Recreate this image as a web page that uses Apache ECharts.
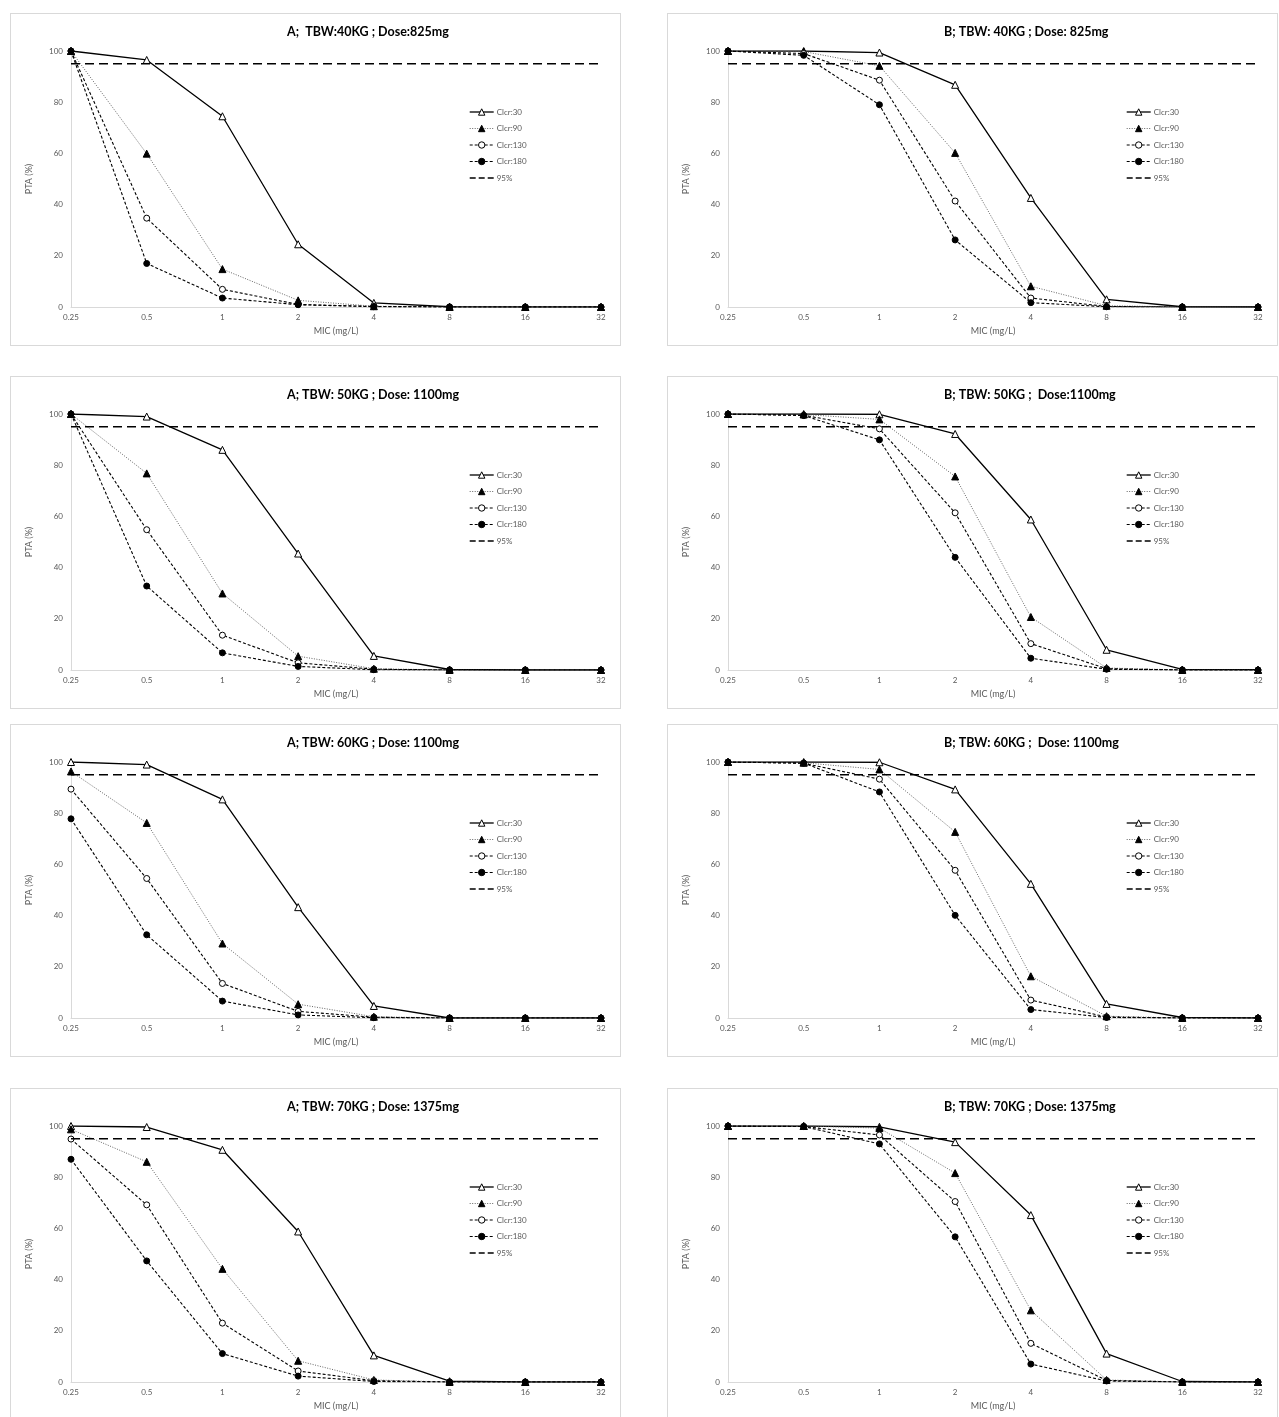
<!DOCTYPE html>
<html>
<head>
<meta charset="utf-8">
<script src="https://cdn.jsdelivr.net/npm/echarts@6/dist/echarts.min.js"></script>
<style>
  html, body { margin: 0; padding: 0; background: #ffffff; }
  body { width: 1279px; height: 1417px; position: relative; overflow: hidden; }
  .box { position: absolute; width: 611px; height: 333px; box-sizing: border-box; border: 1px solid #d9d9d9; background: #fff; }
  .chart { position: absolute; left: -1px; top: -1px; width: 611px; height: 333px; }
</style>
</head>
<body>
<script>
// ---- Data ----
const micLabels = ['0.25', '0.5', '1', '2', '4', '8', '16', '32'];
const seriesNames = ['Clcr:30', 'Clcr:90', 'Clcr:130', 'Clcr:180'];
const targetName = '95%';
const targetValue = 95;

const titles = [
  'A;  TBW:40KG ; Dose:825mg',
  'B; TBW: 40KG ; Dose: 825mg',
  'A; TBW: 50KG ; Dose: 1100mg',
  'B; TBW: 50KG ;  Dose:1100mg',
  'A; TBW: 60KG ; Dose: 1100mg',
  'B; TBW: 60KG ;  Dose: 1100mg',
  'A; TBW: 70KG ; Dose: 1375mg',
  'B; TBW: 70KG ; Dose: 1375mg'
];

// A, 40 kg
const a40_30  = [100, 96.5, 74.5, 24.5, 1.6, 0.1, 0, 0];
const a40_90  = [100, 59.9, 14.8, 2.6, 0.3, 0, 0, 0];
const a40_130 = [100, 34.7, 6.9, 1.0, 0.2, 0, 0, 0];
const a40_180 = [100, 17.0, 3.5, 0.9, 0.1, 0, 0, 0];
// B, 40 kg
const b40_30  = [100, 100, 99.4, 86.8, 42.6, 3.0, 0.1, 0];
const b40_90  = [100, 99.8, 94.2, 60.2, 8.1, 0.5, 0, 0];
const b40_130 = [100, 99.0, 88.6, 41.4, 3.5, 0.2, 0, 0];
const b40_180 = [100, 98.3, 79.0, 26.2, 1.7, 0.1, 0, 0];
// A, 50 kg
const a50_30  = [100, 99.0, 86.0, 45.5, 5.5, 0.2, 0, 0];
const a50_90  = [100, 76.8, 29.9, 5.4, 0.5, 0, 0, 0];
const a50_130 = [100, 54.8, 13.6, 2.8, 0.3, 0, 0, 0];
const a50_180 = [100, 32.8, 6.7, 1.4, 0.1, 0, 0, 0];
// B, 50 kg
const b50_30  = [100, 100, 99.9, 92.2, 58.8, 7.9, 0.2, 0.1];
const b50_90  = [100, 99.8, 97.9, 75.6, 20.7, 0.8, 0, 0];
const b50_130 = [100, 99.5, 94.2, 61.4, 10.3, 0.5, 0, 0];
const b50_180 = [100, 99.4, 89.9, 44.0, 4.6, 0.3, 0, 0];
// A, 60 kg
const a60_30  = [100, 99.0, 85.4, 43.3, 4.7, 0, 0, 0];
const a60_90  = [96.3, 76.2, 29.1, 5.4, 0.5, 0, 0, 0];
const a60_130 = [89.4, 54.5, 13.5, 2.6, 0.3, 0, 0, 0];
const a60_180 = [77.8, 32.5, 6.6, 1.2, 0.1, 0, 0, 0];
// B, 60 kg
const b60_30  = [100, 100, 99.9, 89.3, 52.4, 5.5, 0.2, 0];
const b60_90  = [100, 99.7, 97.1, 72.7, 16.3, 0.7, 0, 0];
const b60_130 = [100, 99.5, 93.3, 57.7, 7.0, 0.4, 0, 0];
const b60_180 = [100, 99.6, 88.3, 40.1, 3.3, 0.2, 0, 0];
// A, 70 kg
const a70_30  = [100, 99.6, 90.7, 58.8, 10.4, 0.3, 0, 0];
const a70_90  = [98.7, 86.0, 44.2, 8.3, 0.8, 0, 0, 0];
const a70_130 = [94.9, 69.2, 23.0, 4.3, 0.5, 0, 0, 0];
const a70_180 = [87.0, 47.3, 11.1, 2.3, 0.2, 0, 0, 0];
// B, 70 kg
const b70_30  = [100, 100, 99.7, 93.7, 65.2, 11.1, 0.2, 0];
const b70_90  = [100, 100, 99.2, 81.6, 28.0, 0.8, 0, 0];
const b70_130 = [100, 99.8, 96.5, 70.5, 15.1, 0.6, 0, 0];
const b70_180 = [100, 99.8, 93.0, 56.7, 7.0, 0.4, 0, 0];

const panelData = [
  [a40_30, a40_90, a40_130, a40_180],
  [b40_30, b40_90, b40_130, b40_180],
  [a50_30, a50_90, a50_130, a50_180],
  [b50_30, b50_90, b50_130, b50_180],
  [a60_30, a60_90, a60_130, a60_180],
  [b60_30, b60_90, b60_130, b60_180],
  [a70_30, a70_90, a70_130, a70_180],
  [b70_30, b70_90, b70_130, b70_180]
];

// ---- Layout ----
const colLeft = [10, 667];
const rowTop = [13, 376, 724, 1088];

const FONT = 'Lato, "Open Sans", "Liberation Sans", sans-serif';
const GRAY = '#595959';
const AXIS = '#d9d9d9';

const seriesStyles = [
  { line: { color: '#000', width: 1.3, type: 'solid' }, symbol: 'triangle', size: 7, fill: '#fff' },
  { line: { color: '#555', width: 0.9, type: [1, 1.5] }, symbol: 'triangle', size: 7, fill: '#000' },
  { line: { color: '#000', width: 1.1, type: [3, 2] }, symbol: 'circle', size: 6, fill: '#fff' },
  { line: { color: '#000', width: 1.1, type: [3, 2] }, symbol: 'circle', size: 6, fill: '#000' }
];
const targetLine = { color: '#000', width: 1.4, type: [9, 5] };

const legendItems = seriesNames.map((n, k) => ({
  name: n,
  itemStyle: { color: seriesStyles[k].fill, borderColor: '#000', borderWidth: 1 },
  lineStyle: { color: seriesStyles[k].line.color, width: seriesStyles[k].line.width, type: seriesStyles[k].line.type }
})).concat([{
  name: targetName,
  itemStyle: { opacity: 0 },
  lineStyle: { color: '#000', width: 1.4, type: [6, 3] }
}]);

panelData.forEach((dataSets, i) => {
  const box = document.createElement('div');
  box.className = 'box';
  box.style.left = colLeft[i % 2] + 'px';
  box.style.top = rowTop[Math.floor(i / 2)] + 'px';
  const el = document.createElement('div');
  el.className = 'chart';
  box.appendChild(el);
  document.body.appendChild(box);

  const chart = echarts.init(el, null, { renderer: 'canvas', width: 611, height: 333 });

  const series = dataSets.map((vals, k) => {
    const st = seriesStyles[k];
    return {
      name: seriesNames[k],
      type: 'line',
      data: vals,
      symbol: st.symbol,
      symbolSize: st.size,
      showAllSymbol: true,
      lineStyle: st.line,
      itemStyle: { color: st.fill, borderColor: '#000', borderWidth: 1 },
      animation: false,
      z: 3 + k
    };
  });
  series.push({
    name: targetName,
    type: 'line',
    data: micLabels.map(() => targetValue),
    symbol: 'none',
    lineStyle: targetLine,
    itemStyle: { color: '#000' },
    animation: false,
    z: 10
  });

  chart.setOption({
    animation: false,
    backgroundColor: 'transparent',
    title: {
      text: titles[i],
      left: 277,
      top: 12,
      padding: 0,
      textStyle: { fontFamily: FONT, fontSize: 12.5, fontWeight: 'bold', color: '#000' }
    },
    grid: { left: 61, right: 20, top: 38, bottom: 39, containLabel: false },
    legend: {
      orient: 'vertical',
      left: 459,
      top: 95,
      padding: 0,
      itemWidth: 24,
      itemHeight: 8,
      itemGap: 8.5,
      textStyle: { fontFamily: FONT, fontSize: 8, color: GRAY, lineHeight: 8, padding: [0, 0, 0, -2] },
      data: legendItems
    },
    xAxis: {
      type: 'category',
      data: micLabels,
      boundaryGap: false,
      name: 'MIC (mg/L)',
      nameLocation: 'middle',
      nameGap: 20,
      nameTextStyle: { fontFamily: FONT, fontSize: 9, color: GRAY },
      axisLine: { lineStyle: { color: AXIS, width: 1 } },
      axisTick: { show: false },
      axisLabel: { fontFamily: FONT, fontSize: 8, color: GRAY, margin: 6 },
      splitLine: { show: false }
    },
    yAxis: {
      type: 'value',
      min: 0,
      max: 100,
      interval: 20,
      name: 'PTA (%)',
      nameLocation: 'middle',
      nameGap: 37,
      nameTextStyle: { fontFamily: FONT, fontSize: 9, color: GRAY },
      axisLine: { show: true, lineStyle: { color: AXIS, width: 1 } },
      axisTick: { show: false },
      axisLabel: { fontFamily: FONT, fontSize: 8, color: GRAY, margin: 8 },
      splitLine: { show: false }
    },
    series: series
  });
});
</script>
</body>
</html>
